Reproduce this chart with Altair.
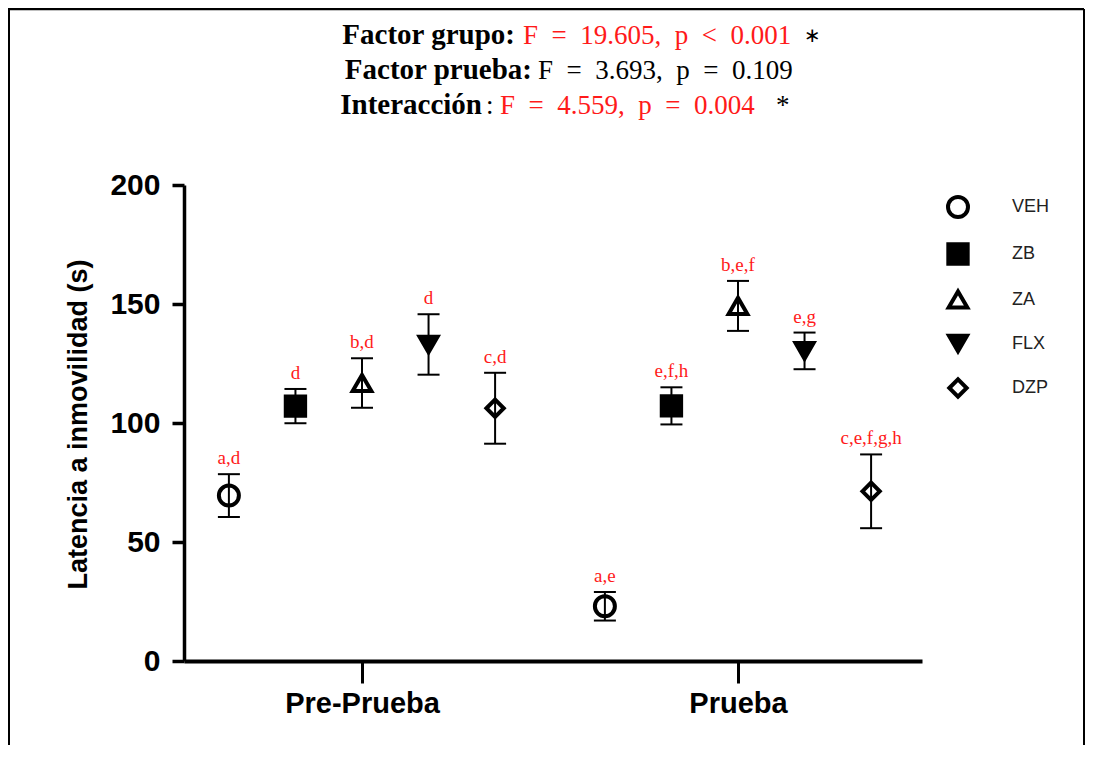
import altair as alt
import pandas as pd

# ---- data ----
phases = ["Pre-Prueba", "Prueba"]
groups = ["VEH", "ZB", "ZA", "FLX", "DZP"]
mean_pre = [69.5, 107.1, 116.8, 133.0, 106.2]
sem_pre = [9.0, 7.2, 10.4, 12.7, 14.9]
mean_post = [23.0, 107.2, 149.2, 130.3, 71.3]
sem_post = [6.0, 7.8, 10.5, 7.7, 15.5]
letters_pre = ["a,d", "d", "b,d", "d", "c,d"]
letters_post = ["a,e", "e,f,h", "b,e,f", "e,g", "c,e,f,g,h"]
y_ticks = [0, 50, 100, 150, 200]

# ---- marker styles per group ----
group_shapes = ["circle", "square", "triangle-up", "triangle-down", "diamond"]
group_fills = ["transparent", "black", "transparent", "black", "transparent"]
group_sizes = [400, 300, 470, 330, 820]
group_strokes = ["black"] * 5

rows = []
for pi, (means, sems, lets) in enumerate(
    [(mean_pre, sem_pre, letters_pre), (mean_post, sem_post, letters_post)]
):
    for gi, g in enumerate(groups):
        rows.append({"fase_idx": pi, "grupo": g, "grupo_idx": gi,
                     "media": means[gi], "eem": sems[gi], "letras": lets[gi]})
df = pd.DataFrame(rows)

STEP = 0.177
base = alt.Chart(df).transform_calculate(
    pos=f"datum.fase_idx + (datum.grupo_idx - 2) * {STEP}",
    lo="datum.media - datum.eem",
    hi="datum.media + datum.eem",
)

label_expr = "[" + ",".join(f"'{p}'" for p in phases) + "][datum.value]"
x_axis = alt.Axis(values=[0, 1], labelExpr=label_expr, title=None, grid=False,
                  tickSize=22, tickWidth=3, tickColor="black",
                  domainWidth=4, domainColor="black",
                  labelFont="Liberation Sans", labelFontWeight="bold",
                  labelFontSize=29, labelColor="black", labelPadding=6)
x_enc = alt.X("pos:Q", scale=alt.Scale(domain=[-0.4734, 1.4894], nice=False, zero=False),
              axis=x_axis)
y_axis = alt.Axis(values=y_ticks, title="Latencia a inmovilidad (s)", grid=False,
                  tickSize=12, tickWidth=3.5, tickColor="black",
                  domainWidth=3.5, domainColor="black",
                  labelFont="Liberation Sans", labelFontWeight="bold",
                  labelFontSize=30, labelColor="black", labelPadding=12,
                  titleFont="Liberation Sans", titleFontWeight="bold",
                  titleFontSize=27, titleColor="black",
                  titleX=-106, titleY=239, titleAngle=270,
                  titleAlign="center", titleBaseline="middle")
y_scale = alt.Scale(domain=[0, 200], nice=False, zero=True)

bars = base.mark_rule(color="black", strokeWidth=2).encode(
    x=x_enc, y=alt.Y("lo:Q", scale=y_scale, axis=y_axis), y2="hi:Q")
cap_lo = base.mark_tick(orient="horizontal", size=22, thickness=2, color="black",
                        opacity=1).encode(x=x_enc, y=alt.Y("lo:Q", scale=y_scale, axis=y_axis))
cap_hi = base.mark_tick(orient="horizontal", size=22, thickness=2, color="black",
                        opacity=1).encode(x=x_enc, y=alt.Y("hi:Q", scale=y_scale, axis=y_axis))

leg = alt.Legend(title=None, orient="none", legendX=762, legendY=10)
points = base.mark_point(strokeWidth=4, opacity=1).encode(
    x=x_enc,
    y=alt.Y("media:Q", scale=y_scale, axis=y_axis),
    shape=alt.Shape("grupo:N", scale=alt.Scale(domain=groups, range=group_shapes), legend=leg),
    fill=alt.Fill("grupo:N", scale=alt.Scale(domain=groups, range=group_fills), legend=leg),
    stroke=alt.Stroke("grupo:N", scale=alt.Scale(domain=groups, range=group_strokes), legend=leg),
    size=alt.Size("grupo:N", scale=alt.Scale(domain=groups, range=group_sizes), legend=leg),
)

letters = base.mark_text(dy=-16, font="Liberation Serif", fontSize=19, color="#ff1a1a",
                         baseline="middle").encode(
    x=x_enc, y=alt.Y("hi:Q", scale=y_scale, axis=y_axis), text="letras:N")


def seg(text, px, py, align, color, weight="normal", size=27, font="Liberation Serif"):
    return alt.Chart(pd.DataFrame({"t": [text]})).mark_text(
        align=align, baseline="alphabetic", font=font, fontSize=size,
        fontWeight=weight, color=color,
    ).encode(x=alt.value(px), y=alt.value(py), text="t:N")


NB = "\u00a0\u00a0"
RED = "#ff1a1a"
title_layers = [
    seg("Factor grupo:", 331, -141, "right", "black", "bold", size=29),
    seg(f"F{NB}={NB}19.605,{NB}p{NB}<{NB}0.001", 339, -141, "left", RED),
    seg("\u2217", 620, -143, "left", "black", size=20, font="DejaVu Sans"),
    seg("Factor prueba:", 348, -106, "right", "black", "bold", size=29),
    seg(f"F{NB}={NB}3.693,{NB}p{NB}={NB}0.109", 354, -106, "left", "black"),
    seg("Interacción", 298, -71, "right", "black", "bold", size=29),
    seg(":", 302, -71, "left", "black"),
    seg(f"F{NB}={NB}4.559,{NB}p{NB}={NB}0.004", 316, -71, "left", RED),
    seg("*", 592, -71, "left", "black"),
]

one = pd.DataFrame({"k": [0]})
border = [
    alt.Chart(one).mark_rule(color="black", strokeWidth=2).encode(
        x=alt.value(-175), y=alt.value(-176), y2=alt.value(570)),
    alt.Chart(one).mark_rule(color="black", strokeWidth=2.5).encode(
        x=alt.value(-176), x2=alt.value(900), y=alt.value(-176)),
    alt.Chart(one).mark_rule(color="black", strokeWidth=2).encode(
        x=alt.value(900), y=alt.value(-176), y2=alt.value(570)),
]

chart = alt.layer(bars, cap_lo, cap_hi, points, letters, *title_layers, *border).properties(
    width=738, height=476,
    autosize=alt.AutoSizeParams(type="none"),
    padding={"left": 176, "top": 177, "right": 163, "bottom": 84},
    background="white",
).configure_view(stroke=None).configure_legend(
    symbolStrokeWidth=4, symbolOpacity=1,
    labelFont="Liberation Sans", labelFontSize=18, labelColor="#222222",
    labelOffset=42, rowPadding=11, padding=0,
)

chart.save("out.html", embed_options={"renderer": "svg", "actions": False})
